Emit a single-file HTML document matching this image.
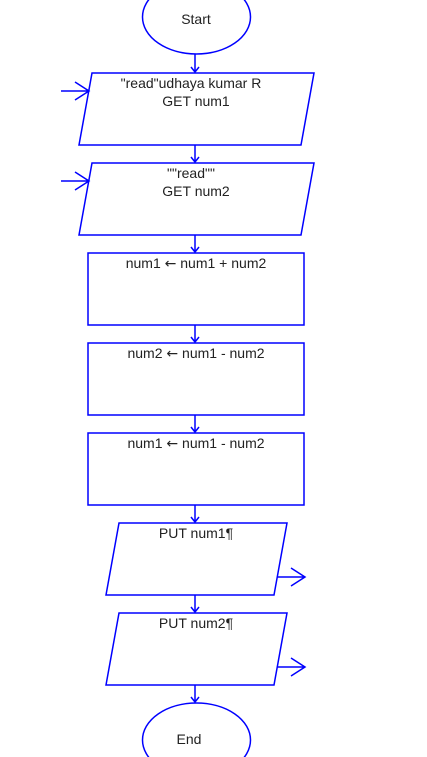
<!DOCTYPE html>
<html><head><meta charset="utf-8"><style>html,body{margin:0;padding:0;background:#fff;}svg{display:block}</style></head>
<body>
<svg width="427" height="757" viewBox="0 0 427 757" xmlns="http://www.w3.org/2000/svg">
<g fill="none" stroke="#0000ff" stroke-width="1.5">
<ellipse cx="196.5" cy="17" rx="54" ry="37"/>
<polygon points="92,73 314,73 301,145 79,145"/>
<polygon points="92,163 314,163 301,235 79,235"/>
<rect x="88" y="253" width="216" height="72"/>
<rect x="88" y="343" width="216" height="72"/>
<rect x="88" y="433" width="216" height="72"/>
<polygon points="119,523 287,523 274,595 106,595"/>
<polygon points="119,613 287,613 274,685 106,685"/>
<ellipse cx="196.5" cy="740" rx="54" ry="37"/>
<path d="M195,54 V72 M191,67 L195,72 L199,67"/>
<path d="M195,145 V162 M191,157 L195,162 L199,157"/>
<path d="M195,235 V252 M191,247 L195,252 L199,247"/>
<path d="M195,325 V342 M191,337 L195,342 L199,337"/>
<path d="M195,415 V432 M191,427 L195,432 L199,427"/>
<path d="M195,505 V522 M191,517 L195,522 L199,517"/>
<path d="M195,595 V612 M191,607 L195,612 L199,607"/>
<path d="M195,685 V702 M191,697 L195,702 L199,697"/>
<path d="M61,91 H89 M75,82 L89,91 L75,100"/>
<path d="M61,181 H89 M75,172 L89,181 L75,190"/>
<path d="M277,577 H305 M291,568 L305,577 L291,586"/>
<path d="M277,667 H305 M291,658 L305,667 L291,676"/>
</g>
<g font-family="Liberation Sans, Arial, sans-serif" font-size="14" fill="#222" text-anchor="middle">
<text x="196" y="24">Start</text>
<text x="191" y="88">"read"udhaya kumar R</text>
<text x="196" y="106">GET num1</text>
<text x="191" y="178">""read""</text>
<text x="196" y="196">GET num2</text>
<text x="196" y="268">num1 <tspan font-family="DejaVu Sans, sans-serif">←</tspan> num1 + num2</text>
<text x="196" y="358">num2 <tspan font-family="DejaVu Sans, sans-serif">←</tspan> num1 - num2</text>
<text x="196" y="448">num1 <tspan font-family="DejaVu Sans, sans-serif">←</tspan> num1 - num2</text>
<text x="196" y="538">PUT num1¶</text>
<text x="196" y="628">PUT num2¶</text>
<text x="189" y="744">End</text>
</g>
</svg>
</body></html>
